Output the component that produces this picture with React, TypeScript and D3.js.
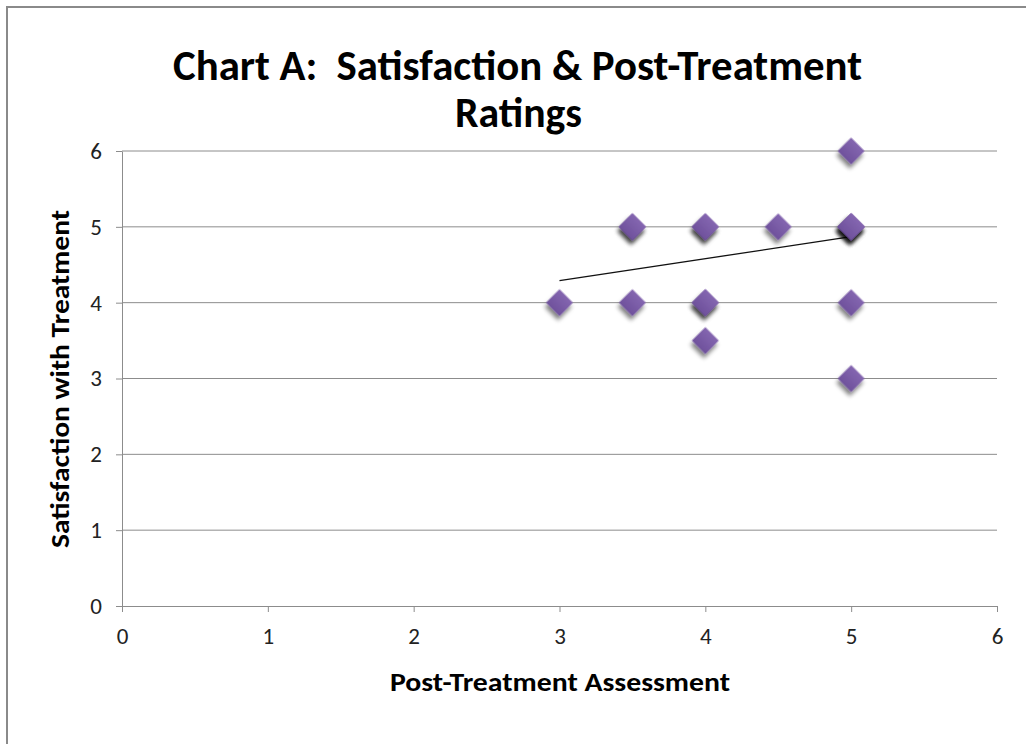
import * as d3 from 'd3';
import React, { useEffect, useRef } from 'react';

// x = post-treatment assessment, y = satisfaction (duplicates stack their shadows)
const assessment = [3, 3.5, 3.5, 3.5, 4, 4, 4, 4, 4, 4.5, 5, 5, 5, 5, 5, 5, 5];
const satisfaction = [4, 4, 5, 5, 5, 5, 4, 4, 3.5, 5, 6, 5, 5, 5, 5, 4, 3];
const trendX = [3, 5];
const trendY = [4.29, 4.87];
const xTicks = [0, 1, 2, 3, 4, 5, 6];
const yTicks = [0, 1, 2, 3, 4, 5, 6];

const W = 1026;
const H = 744;
const FONT = "Carlito, Calibri, 'Liberation Sans Narrow', 'Open Sans', sans-serif";

export default function App() {
	const ref = useRef<SVGSVGElement>(null);

	useEffect(() => {
		const svg = d3.select(ref.current);
		svg.selectAll('*').remove();

		const margin = { top: 151, right: 29, bottom: 138, left: 122 };
		const x = d3.scaleLinear().domain([0, 6]).range([margin.left, W - margin.right]);
		const y = d3.scaleLinear().domain([0, 6]).range([H - margin.bottom, margin.top]);

		const defs = svg.append('defs');
		const f = defs.append('filter').attr('id', 'shadow').attr('x', '-50%').attr('y', '-50%').attr('width', '200%').attr('height', '200%');
		f.append('feGaussianBlur').attr('in', 'SourceAlpha').attr('stdDeviation', 2.2).attr('result', 'b');
		f.append('feOffset').attr('in', 'b').attr('dx', 2).attr('dy', 4).attr('result', 'o');
		f.append('feComponentTransfer').attr('in', 'o').attr('result', 's')
			.append('feFuncA').attr('type', 'linear').attr('slope', 0.5);
		const m = f.append('feMerge');
		m.append('feMergeNode').attr('in', 's');
		m.append('feMergeNode').attr('in', 'SourceGraphic');

		const g = defs.append('linearGradient').attr('id', 'fill').attr('x1', 0).attr('y1', 0).attr('x2', 0).attr('y2', 1);
		g.append('stop').attr('offset', '0%').attr('stop-color', '#8466b0');
		g.append('stop').attr('offset', '100%').attr('stop-color', '#6f519c');

		// outer frame
		svg.append('rect')
			.attr('x', 7).attr('y', 7).attr('width', W + 20).attr('height', H + 20)
			.attr('fill', 'white').attr('stroke', '#8a8a8a').attr('stroke-width', 2);

		// gridlines
		svg.append('g')
			.selectAll('line')
			.data(yTicks.filter(d => d > 0))
			.join('line')
			.attr('x1', x(0)).attr('x2', x(6))
			.attr('y1', d => y(d)).attr('y2', d => y(d))
			.attr('stroke', '#8c8c8c').attr('stroke-width', 1);

		const xAxis = svg.append('g')
			.attr('transform', `translate(0,${y(0)})`)
			.call(d3.axisBottom(x).tickValues(xTicks).tickFormat(d3.format('d')).tickSize(6).tickSizeOuter(0).tickPadding(12));
		const yAxis = svg.append('g')
			.attr('transform', `translate(${x(0)},0)`)
			.call(d3.axisLeft(y).tickValues(yTicks).tickFormat(d3.format('d')).tickSize(6).tickSizeOuter(0).tickPadding(14));
		[xAxis, yAxis].forEach(a => {
			a.select('.domain').attr('stroke', '#8c8c8c');
			a.selectAll('.tick line').attr('stroke', '#8c8c8c');
			a.selectAll('.tick text').attr('font-family', FONT).attr('font-size', 23).attr('fill', '#222');
		});
		xAxis.selectAll('.tick text').attr('dy', '0.85em');

		// trendline
		svg.append('path')
			.datum(trendX.map((d, i) => [d, trendY[i]] as [number, number]))
			.attr('d', d3.line().x(d => x(d[0])).y(d => y(d[1])))
			.attr('stroke', '#111').attr('stroke-width', 1.3).attr('fill', 'none');

		// markers
		const diamond = d3.symbol().type(d3.symbolSquare).size(19 * 19);
		svg.append('g')
			.selectAll('path')
			.data(assessment.map((d, i) => [d, satisfaction[i]]))
			.join('path')
			.attr('d', diamond)
			.attr('transform', d => `translate(${x(d[0])},${y(d[1])}) rotate(45)`)
			.attr('fill', 'url(#fill)')
			.attr('filter', 'url(#shadow)');

		// titles
		const title = svg.append('text')
			.attr('font-family', FONT).attr('xml:space', 'preserve').style('white-space', 'pre')
			.attr('font-weight', 'bold').attr('font-size', 42).attr('fill', '#000');
		title.append('tspan').attr('x', 173).attr('y', 80)
			.attr('textLength', 689).attr('lengthAdjust', 'spacingAndGlyphs')
			.text('Chart A:  Satisfaction & Post-Treatment');
		title.append('tspan').attr('x', 455).attr('y', 127)
			.attr('textLength', 127).attr('lengthAdjust', 'spacingAndGlyphs')
			.text('Ratings');

		svg.append('text')
			.attr('x', 390).attr('y', 691)
			.attr('textLength', 340).attr('lengthAdjust', 'spacingAndGlyphs')
			.attr('font-family', FONT)
			.attr('font-weight', 'bold').attr('font-size', 27).text('Post-Treatment Assessment');

		svg.append('text')
			.attr('transform', `translate(69,548) rotate(-90)`)
			.attr('textLength', 338).attr('lengthAdjust', 'spacingAndGlyphs')
			.attr('font-family', FONT)
			.attr('font-weight', 'bold').attr('font-size', 27).text('Satisfaction with Treatment');
	}, []);

	return (
		<svg ref={ref} width={W} height={H} style={{ position: 'absolute', left: 0, top: 0 }} />
	);
}
